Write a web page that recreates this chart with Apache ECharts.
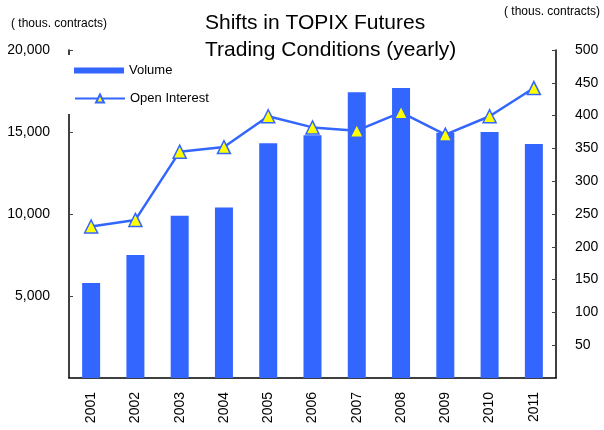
<!DOCTYPE html>
<html>
<head>
<meta charset="utf-8">
<script src="https://cdn.jsdelivr.net/npm/echarts@6/dist/echarts.min.js"></script>
<style>
  html, body { margin: 0; padding: 0; background: #fff; }
  #main { width: 604px; height: 430px; }
</style>
</head>
<body>
<div id="main"></div>
<script>
// yearly data, thousands of contracts
var years = ['2001', '2002', '2003', '2004', '2005', '2006', '2007', '2008', '2009', '2010', '2011'];
var volume = [5800, 7500, 9900, 10400, 14320, 14800, 17430, 17680, 14950, 15000, 14270];
var openInterest = [231, 241, 345, 352, 399, 382, 377, 405, 371, 399, 442];

var blue = '#3366ff';
var font = '"Liberation Sans", Arial, sans-serif';

var chart = echarts.init(document.getElementById('main'));

var option = {
  animation: false,
  title: {
    text: 'Shifts in TOPIX Futures\nTrading Conditions (yearly)',
    left: 200,
    top: 5,
    textStyle: { fontFamily: font, fontSize: 21, fontWeight: 'normal', color: '#000', lineHeight: 27 }
  },
  legend: [
    {
      data: [{ name: 'Volume', icon: 'rect' }],
      left: 64,
      top: 55,
      orient: 'vertical',
      itemWidth: 50,
      itemHeight: 6,
      padding: [9, 10, 8, 10],
      backgroundColor: '#fff',
      textStyle: { fontFamily: font, fontSize: 13, color: '#000' }
    },
    {
      data: ['Open Interest'],
      left: 64,
      top: 84,
      orient: 'vertical',
      itemWidth: 50,
      itemHeight: 10,
      padding: [8, 10, 9, 10],
      backgroundColor: '#fff',
      textStyle: { fontFamily: font, fontSize: 13, color: '#000' }
    }
  ],
  grid: { left: 69, right: 48, top: 50, bottom: 52 },
  graphic: [
    { type: 'text', left: 11, top: 18, style: { text: '( thous. contracts)', font: '12px ' + font, fill: '#000' } },
    { type: 'text', left: 504, top: 6, style: { text: '( thous. contracts)', font: '12px ' + font, fill: '#000' } }
  ],
  xAxis: {
    type: 'category',
    data: years,
    axisLine: { lineStyle: { color: '#000', width: 1.5 } },
    axisTick: { inside: true, length: 4, lineStyle: { color: '#888' } },
    axisLabel: { rotate: 90, margin: 14, fontFamily: font, fontSize: 14, color: '#000' }
  },
  yAxis: [
    {
      type: 'value',
      min: 0, max: 20000, interval: 5000,
      splitLine: { show: false },
      axisLine: { show: true, lineStyle: { color: '#000', width: 1.5 } },
      axisTick: { show: true, inside: true, length: 4, lineStyle: { color: '#444' } },
      axisLabel: {
        margin: 19, fontFamily: font, fontSize: 14, color: '#000',
        formatter: function (v) { return v === 0 ? '' : v.toLocaleString('en-US'); }
      }
    },
    {
      type: 'value',
      min: 0, max: 500, interval: 50,
      splitLine: { show: false },
      axisLine: { show: true, lineStyle: { color: '#000', width: 1.5 } },
      axisTick: { show: true, inside: true, length: 4, lineStyle: { color: '#444' } },
      axisLabel: {
        margin: 19, fontFamily: font, fontSize: 14, color: '#000',
        formatter: function (v) { return v === 0 ? '' : String(v); }
      }
    }
  ],
  series: [
    {
      name: 'Volume',
      type: 'bar',
      data: volume,
      barWidth: 18,
      itemStyle: { color: blue }
    },
    {
      name: 'Open Interest',
      type: 'line',
      yAxisIndex: 1,
      data: openInterest,
      z: 5,
      symbol: 'triangle',
      symbolSize: 13,
      lineStyle: { color: blue, width: 2.5 },
      itemStyle: { color: '#ffff00', borderColor: blue, borderWidth: 1.5 }
    }
  ]
};

chart.setOption(option);
</script>
</body>
</html>
